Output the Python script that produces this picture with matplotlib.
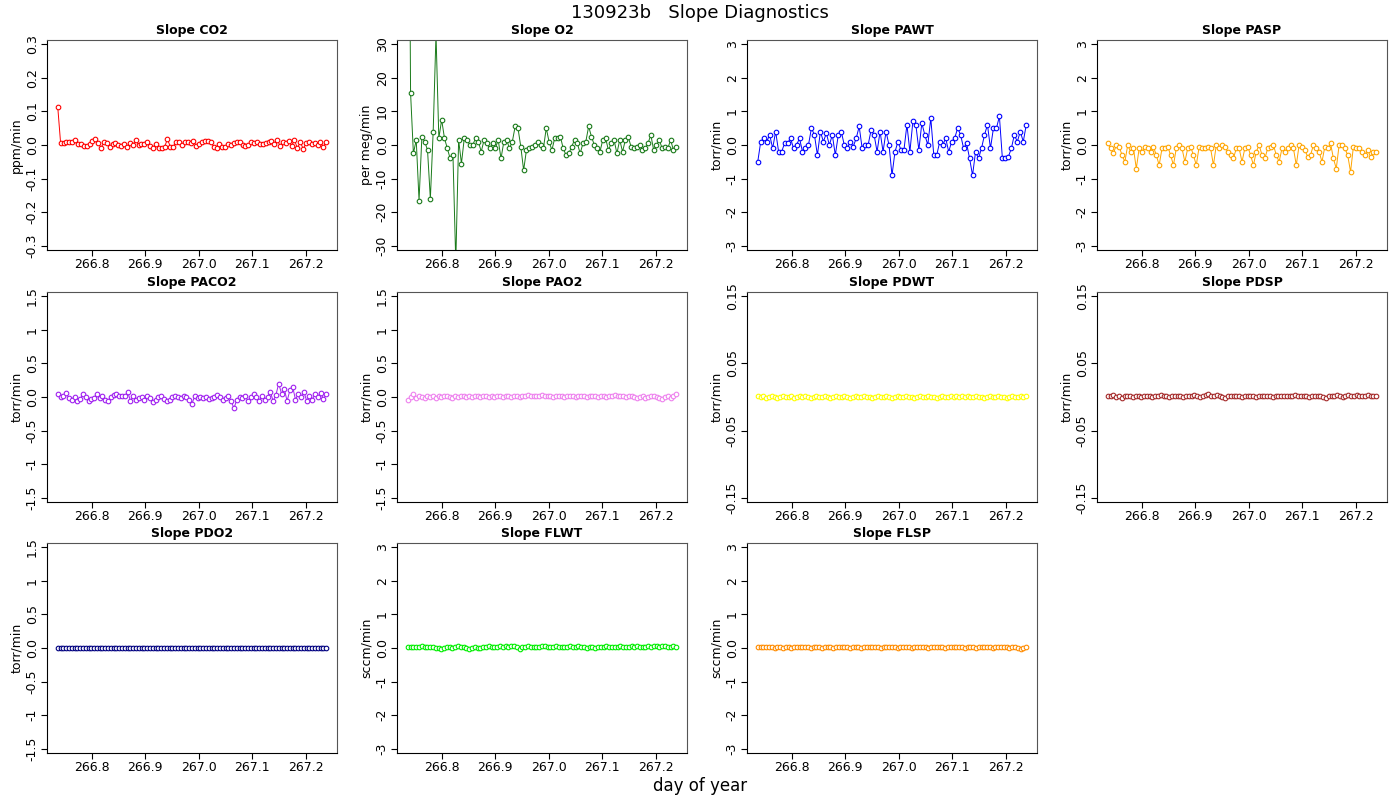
import numpy as np
import matplotlib
matplotlib.use("Agg")
import matplotlib.pyplot as plt

day_start, day_end = 266.737, 267.238

co2 = [0.113,0.005,0.007,0.008,0.01,0.008,0.015,0.003,0.002,-0.002,-0.003,0.002,0.013,0.017,0.005,-0.008,0.008,0.005,-0.005,0.002,0.005,0.0,-0.003,0.002,-0.007,0.005,0.0,0.015,0.0,0.003,0.003,0.008,-0.002,-0.01,0.003,-0.01,-0.008,-0.005,0.017,-0.005,-0.005,0.01,0.008,0.0,0.008,0.01,0.005,0.012,-0.003,0.003,0.01,0.012,0.012,0.01,-0.005,-0.01,0.003,-0.005,-0.005,0.002,0.0,0.005,0.008,0.008,0.0,-0.003,0.0,0.008,0.005,0.01,0.002,0.003,0.005,0.008,0.013,0.002,0.015,-0.002,0.008,0.005,0.012,-0.002,0.015,-0.01,0.01,-0.012,0.005,0.01,0.003,0.007,0.0,0.008,-0.005,0.01]
o2 = [150,15.5,-2.5,1.5,-16.5,2.5,1,-1.5,-16,4,33,2,7.5,2,-1,-4,-3,-35,1.5,-5.5,2,1.5,0,0,2,1,-2,1.5,0.5,-1,0.5,-1,1.5,-4,1,1.5,-1,1,5.5,5,-0.5,-7.5,-1.5,-1,-0.5,0,1,0,-1,5,1,-1.5,2,2,2.5,-1,-3,-2.5,-0.5,1.5,0.5,-2.5,0.5,1,5.5,2.5,0,-1,-2,1.5,2,-1.5,0.5,1.5,-2.5,1.5,-2,1.5,2.5,-0.5,-1,-0.5,0,-1.5,-1,0.5,3,-1.5,0,1.5,-1,-0.5,-1,1.5,-1.5,-0.5]
pawt = [-0.5,0.1,0.2,0.1,0.3,-0.1,0.4,-0.2,-0.2,0.05,0.05,0.2,-0.1,0.0,0.2,-0.2,-0.1,0.0,0.5,0.3,-0.3,0.4,0.1,0.35,0.0,0.3,-0.3,0.3,0.4,0.0,-0.1,0.1,-0.05,0.2,0.55,-0.1,0.0,0.0,0.45,0.3,-0.2,0.4,-0.2,0.4,0.0,-0.9,-0.2,0.1,-0.15,-0.15,0.6,-0.2,0.7,0.6,-0.15,0.65,0.3,0.0,0.8,-0.3,-0.3,0.1,0.0,0.2,-0.2,0.1,0.2,0.5,0.3,-0.1,0.05,-0.4,-0.9,-0.2,-0.4,-0.1,0.3,0.6,-0.1,0.5,0.5,0.85,-0.4,-0.4,-0.35,-0.1,0.3,0.1,0.4,0.1,0.6]
pasp = [0.05,-0.1,-0.25,0.0,-0.05,-0.3,-0.5,0.0,-0.2,-0.1,-0.7,-0.1,-0.2,-0.05,-0.1,-0.2,-0.05,-0.3,-0.6,-0.1,-0.1,-0.05,-0.3,-0.6,-0.1,0.0,-0.1,-0.5,-0.1,-0.05,-0.3,-0.6,-0.05,-0.1,-0.1,-0.05,-0.1,-0.6,0.0,-0.1,0.0,-0.05,-0.2,-0.3,-0.4,-0.1,-0.1,-0.5,-0.1,-0.05,-0.3,-0.6,-0.2,0.0,-0.3,-0.4,-0.1,-0.05,0.0,-0.3,-0.5,-0.1,-0.2,-0.1,0.0,-0.1,-0.6,0.0,-0.05,-0.15,-0.35,-0.3,0.0,-0.1,-0.2,-0.5,-0.05,-0.1,0.05,-0.4,-0.7,0.0,0.0,-0.1,-0.3,-0.8,-0.05,-0.1,-0.1,-0.2,-0.3,-0.15,-0.35,-0.2,-0.2]
paco2 = [0.05,0.0,0.02,0.06,-0.02,-0.04,0.0,-0.06,-0.03,0.04,0.0,-0.06,-0.03,-0.01,0.04,-0.02,0.02,-0.04,-0.06,0.0,0.03,0.05,0.02,0.02,0.01,0.08,-0.06,0.02,-0.04,-0.02,0.0,-0.05,0.02,-0.02,-0.08,-0.04,0.0,0.02,-0.03,-0.06,-0.04,0.0,0.02,0.0,-0.02,0.02,0.0,-0.04,-0.1,0.02,-0.02,0.0,-0.02,0.0,-0.03,-0.02,0.0,0.03,0.0,-0.05,-0.02,0.01,-0.06,-0.17,-0.04,0.0,-0.02,0.02,-0.06,0.0,0.04,0.0,-0.06,0.02,-0.04,0.0,0.08,-0.06,0.03,0.2,0.05,0.12,-0.06,0.1,0.15,-0.04,0.05,0.0,0.08,-0.06,0.02,-0.04,0.05,0.0,0.06,-0.03,0.04]
pao2 = [-0.05,0.0,0.05,-0.02,0.02,0.0,-0.01,0.02,0.0,0.01,-0.01,0.02,0.0,0.01,0.02,0.0,-0.01,0.01,0.0,0.02,0.01,0.0,0.01,0.0,0.02,0.01,0.0,0.01,0.02,0.0,0.01,0.0,0.02,0.01,0.0,0.02,0.01,0.0,0.01,0.02,0.0,0.01,0.02,0.03,0.01,0.02,0.02,0.01,0.03,0.02,0.01,0.02,0.0,0.01,0.02,0.01,0.0,0.02,0.01,0.02,0.0,0.01,0.02,0.01,0.0,0.02,0.01,0.02,0.0,0.01,0.02,0.0,0.01,0.02,0.03,0.02,0.01,0.02,0.0,0.01,0.02,0.0,-0.02,0.0,0.01,-0.02,0.0,0.01,0.02,0.0,-0.01,-0.03,0.0,0.01,-0.01,0.02,0.05]
pdwt = [0.001,0.0,0.001,-0.001,0.0,0.001,0.0,-0.001,0.0,0.001,0.0,0.0,0.001,-0.001,0.0,0.001,0.0,0.001,0.0,-0.001,0.0,0.001,0.0,0.0,0.001,0.0,-0.001,0.0,0.001,0.0,0.0,0.001,0.0,-0.001,0.0,0.001,0.0,0.0,0.001,0.0,0.0,-0.001,0.0,0.001,0.0,0.0,0.001,0.0,-0.001,0.0,0.001,0.0,0.0,0.001,0.0,0.0,-0.001,0.0,0.001,0.0,0.0,0.001,0.0,0.0,-0.001,0.0,0.001,0.0,0.0,0.001,0.0,0.001,0.0,0.001,0.0,0.001,0.0,0.0,0.001,0.0,0.0,-0.001,0.0,0.001,0.0,0.0,0.001,0.0,0.0,-0.001,0.0,0.001,0.0,0.0,0.001,0.0,0.001]
pdsp = [0.002,0.001,0.003,0.0,0.001,-0.001,0.001,0.002,0.001,0.0,0.001,0.002,0.0,0.001,0.002,0.001,0.0,0.001,0.002,0.003,0.001,0.002,0.0,0.001,0.002,0.001,0.002,0.0,0.001,0.002,0.001,0.003,0.001,0.0,0.001,0.003,0.004,0.002,0.001,0.003,0.002,0.0,-0.001,0.001,0.002,0.001,0.002,0.001,0.0,0.001,0.002,0.001,0.002,0.0,0.001,0.002,0.001,0.002,0.001,0.0,0.001,0.002,0.001,0.002,0.001,0.002,0.001,0.003,0.002,0.001,0.002,0.001,0.0,0.001,0.002,0.001,0.002,0.0,-0.001,0.001,0.002,0.001,0.003,0.001,0.0,0.001,0.003,0.002,0.001,0.003,0.002,0.001,0.002,0.003,0.002,0.001,0.002]
pdo2 = [0.0]*97
flwt = [0.03,0.02,0.04,0.02,0.03,0.05,0.02,0.03,0.04,0.02,-0.01,0.0,-0.02,0.01,0.03,0.02,0.0,0.04,0.05,0.02,0.03,0.0,-0.02,0.01,0.02,-0.01,0.0,0.02,0.03,0.05,0.02,0.03,0.04,0.06,0.03,0.05,0.04,0.07,0.05,0.02,-0.02,0.03,0.02,0.05,0.02,0.04,0.03,0.02,0.05,0.06,0.03,0.04,0.02,0.05,0.03,0.04,0.02,0.03,0.05,0.02,0.04,0.06,0.03,0.02,0.0,0.02,0.03,0.0,0.02,0.04,0.03,0.05,0.02,0.04,0.03,0.02,0.05,0.03,0.04,0.02,0.05,0.03,0.06,0.04,0.02,0.03,0.05,0.04,0.06,0.05,0.03,0.05,0.06,0.04,0.03,0.05,0.04]
flsp = [0.03,0.02,0.04,0.03,0.02,0.03,0.01,0.02,0.03,0.0,0.02,0.03,0.01,0.02,0.03,0.02,0.04,0.02,0.03,0.01,0.02,0.03,0.02,0.01,0.03,0.02,0.03,0.01,0.02,0.03,0.02,0.03,0.02,0.01,0.03,0.02,0.03,0.01,0.02,0.03,0.02,0.03,0.02,0.03,0.01,0.02,0.03,0.02,0.03,0.02,0.01,0.03,0.02,0.03,0.02,0.01,0.02,0.03,0.02,0.03,0.02,0.01,0.02,0.03,0.02,0.03,0.02,0.01,0.02,0.03,0.02,0.04,0.03,0.02,0.01,0.03,0.02,0.03,0.01,0.02,0.03,0.02,0.03,0.02,0.01,0.02,0.03,0.02,0.03,0.02,0.01,0.03,0.02,0.0,-0.03,0.0,0.02]

titles = ["Slope CO2","Slope O2","Slope PAWT","Slope PASP","Slope PACO2","Slope PAO2",
          "Slope PDWT","Slope PDSP","Slope PDO2","Slope FLWT","Slope FLSP"]
units = ["ppm/min","per meg/min","torr/min","torr/min","torr/min","torr/min",
         "torr/min","torr/min","torr/min","sccm/min","sccm/min"]
colors = ["red","#1a7a1a","blue","orange","#a020f0","violet","yellow","brown","navy","#00ee00","darkorange"]
series = [co2,o2,pawt,pasp,paco2,pao2,pdwt,pdsp,pdo2,flwt,flsp]
ylims = [0.3,30,3,3,1.5,1.5,0.15,0.15,1.5,3,3]
yticks = [[-0.3,-0.2,-0.1,0.0,0.1,0.2,0.3],[-30,-20,-10,0,10,20,30],[-3,-2,-1,0,1,2,3],[-3,-2,-1,0,1,2,3],
          [-1.5,-1.0,-0.5,0.0,0.5,1.0,1.5],[-1.5,-1.0,-0.5,0.0,0.5,1.0,1.5],[-0.15,-0.05,0.05,0.15],[-0.15,-0.05,0.05,0.15],
          [-1.5,-1.0,-0.5,0.0,0.5,1.0,1.5],[-3,-2,-1,0,1,2,3],[-3,-2,-1,0,1,2,3]]
xticks = [266.8,266.9,267.0,267.1,267.2]

W, H = 1400, 800
fig = plt.figure(figsize=(14,8), dpi=100)
fig.text(0.5, 1-13/H, "130923b   Slope Diagnostics", ha="center", va="center", fontsize=13)
fig.text(0.5, 1-786/H, "day of year", ha="center", va="center", fontsize=12)
lefts = [47,397,747,1097]
tops = [40,292,543]
pw, ph = 290, 210
for i,(vals,t,u,c,yl,yt) in enumerate(zip(series,titles,units,colors,ylims,yticks)):
    r, col = divmod(i,4)
    ax = fig.add_axes([lefts[col]/W, 1-(tops[r]+ph)/H, pw/W, ph/H])
    x = np.linspace(day_start, day_end, len(vals))
    ax.plot(x, vals, "-", color=c, lw=0.7)
    ax.plot(x, vals, "o", mfc="white", mec=c, ms=3.3, mew=0.8)
    span = day_end-day_start
    ax.set_xlim(day_start-0.04*span, day_end+0.04*span)
    ax.set_ylim(-yl*1.04, yl*1.04)
    ax.set_yticks(yt)
    ax.set_yticklabels([("%g" % v) if abs(v) >= 1 else ("%.2f" % v if yl==0.15 else "%.1f" % v) for v in yt],
                       rotation=90, va="center", fontsize=9)
    ax.set_xticks(xticks)
    ax.set_xticklabels(["%.1f" % v for v in xticks], fontsize=9)
    ax.set_title(t, fontsize=9, fontweight="bold", pad=4)
    ax.set_ylabel(u, fontsize=9, labelpad=2)
    for s in ["top","right"]:
        ax.spines[s].set_color("#555555")
    ax.tick_params(length=4, width=0.8, pad=2)
fig.savefig("out.png", dpi=100, facecolor="white")
